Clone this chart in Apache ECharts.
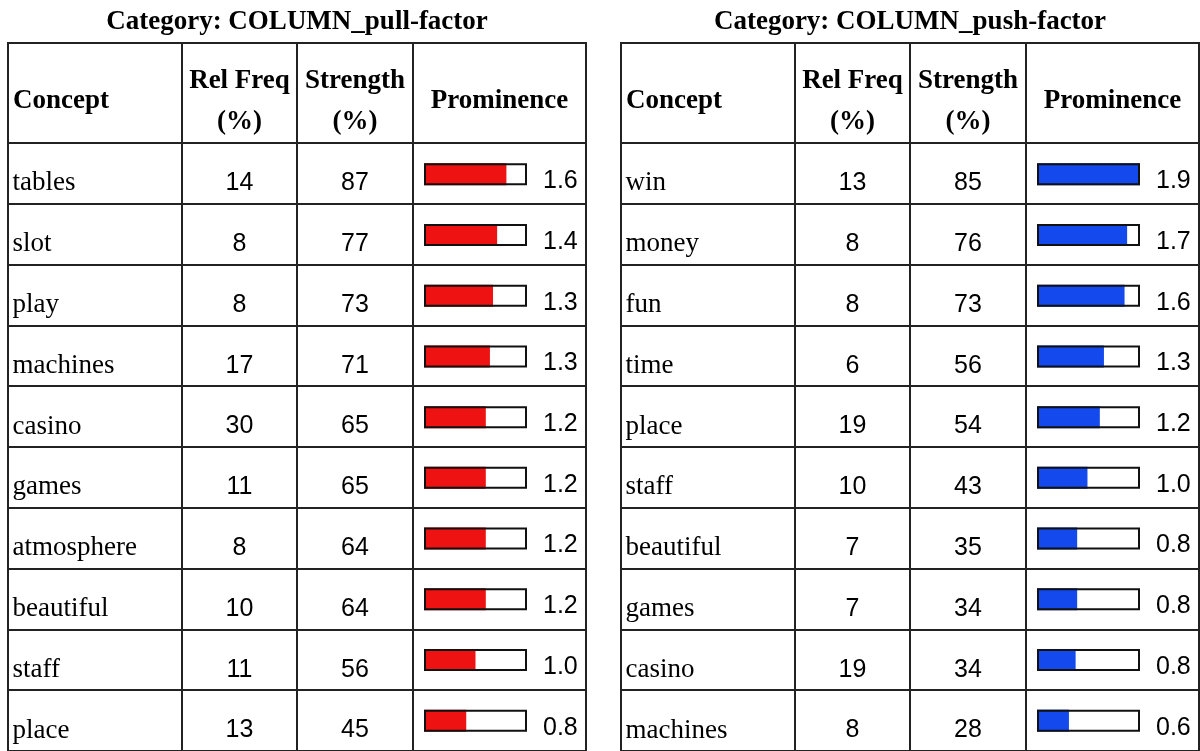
<!DOCTYPE html>
<html>
<head>
<meta charset="utf-8">
<script src="https://cdn.jsdelivr.net/npm/echarts@6/dist/echarts.min.js"></script>
<style>
  html, body { margin: 0; padding: 0; background: #fff; }
  #chart { width: 1200px; height: 751px; }
</style>
</head>
<body>
<div id="chart"></div>
<script>
// COLUMN_pull-factor
var pullConcepts = ['tables', 'slot', 'play', 'machines', 'casino', 'games', 'atmosphere', 'beautiful', 'staff', 'place']
var pullRelFreq = [14, 8, 8, 17, 30, 11, 8, 10, 11, 13]
var pullStrength = [87, 77, 73, 71, 65, 65, 64, 64, 56, 45]
var pullProminence = [1.6, 1.4, 1.3, 1.3, 1.2, 1.2, 1.2, 1.2, 1.0, 0.8]
// bar lengths as drawn (the printed prominence is rounded)
var pullBar = [1.6, 1.42, 1.34, 1.28, 1.2, 1.2, 1.2, 1.2, 1.0, 0.82]

// COLUMN_push-factor
var pushConcepts = ['win', 'money', 'fun', 'time', 'place', 'staff', 'beautiful', 'games', 'casino', 'machines']
var pushRelFreq = [13, 8, 8, 6, 19, 10, 7, 7, 19, 8]
var pushStrength = [85, 76, 73, 56, 54, 43, 35, 34, 34, 28]
var pushProminence = [1.9, 1.7, 1.6, 1.3, 1.2, 1.0, 0.8, 0.8, 0.8, 0.6]
var pushBar = [2.0, 1.75, 1.7, 1.3, 1.22, 0.98, 0.78, 0.78, 0.75, 0.62]

var PROM_MAX = 2

var LINE = '#222'
var TXT = '#000'
var SERIF = '"Liberation Serif", "Times New Roman", serif'
var SANS = '"Liberation Sans", Arial, sans-serif'

var HEAD_TOP = 43
var BODY_TOP = 143
var BODY_H = 613
var COL_W = [174, 115, 116, 173]

var tables = [
  { x: 8, title: 'Category: COLUMN_pull-factor', concepts: pullConcepts, relFreq: pullRelFreq,
    strength: pullStrength, prom: pullProminence, bar: pullBar, color: '#ee1212' },
  { x: 621, title: 'Category: COLUMN_push-factor', concepts: pushConcepts, relFreq: pushRelFreq,
    strength: pushStrength, prom: pushProminence, bar: pushBar, color: '#1449ee' }
]

var grid = []
var xAxis = []
var yAxis = []
var series = []
var graphic = []

function headText(text, x, y, align) {
  return {
    type: 'text', x: x, y: y, silent: true,
    style: {
      text: text, fill: TXT, fontFamily: SERIF, fontSize: 27, fontWeight: 'bold',
      align: align || 'center', verticalAlign: 'middle', lineHeight: 41
    }
  }
}

// text cells: invisible points whose labels carry the values
function textColumn(gi, names, getText, font, labelPos, distance, dy) {
  return {
    type: 'scatter', xAxisIndex: gi, yAxisIndex: gi, silent: true,
    symbolSize: 1, itemStyle: { color: 'rgba(0,0,0,0)' },
    data: names.map(function(name, i) { return [0, i] }),
    label: {
      show: true, position: labelPos, distance: distance, offset: [0, dy],
      color: TXT, fontFamily: font.family, fontSize: font.size,
      textBorderWidth: 0, opacity: 1,
      formatter: function(p) { return getText(p.dataIndex) }
    }
  }
}

tables.forEach(function(t) {
  // column edges
  var edges = [t.x]
  COL_W.forEach(function(w, i) { edges.push(edges[i] + w) })

  // title over the table
  graphic.push({
    type: 'text', x: (edges[0] + edges[4]) / 2, y: 22, silent: true,
    style: { text: t.title, fill: TXT, fontFamily: SERIF, fontSize: 27, fontWeight: 'bold',
      align: 'center', verticalAlign: 'middle' }
  })

  // header cells
  for (var c = 0; c < 4; c++) {
    graphic.push({
      type: 'rect', silent: true,
      shape: { x: edges[c], y: HEAD_TOP, width: COL_W[c], height: BODY_TOP - HEAD_TOP },
      style: { fill: 'none', stroke: LINE, lineWidth: 2 }
    })
  }
  graphic.push(headText('Concept', edges[0] + 5, 101, 'left'))
  graphic.push(headText('Rel Freq\n(%)', (edges[1] + edges[2]) / 2, 102))
  graphic.push(headText('Strength\n(%)', (edges[2] + edges[3]) / 2, 102))
  graphic.push(headText('Prominence', (edges[3] + edges[4]) / 2, 101))

  // body: one grid per column, row lines from the category axis
  var firstGrid = grid.length
  for (var k = 0; k < 4; k++) {
    var gi = grid.length
    grid.push({
      left: edges[k], top: BODY_TOP, width: COL_W[k], height: BODY_H,
      show: true, borderColor: LINE, borderWidth: 2, backgroundColor: 'transparent'
    })
    xAxis.push(k === 0
      ? { gridIndex: gi, type: 'value', min: 0, max: 1, show: false }
      : { gridIndex: gi, type: 'category', data: [''], show: false })
    yAxis.push({
      gridIndex: gi, type: 'category', data: t.concepts, inverse: true,
      axisLine: { show: false }, axisTick: { show: false }, axisLabel: { show: false },
      splitLine: { show: true, interval: 0, lineStyle: { color: LINE, width: 2 } }
    })
  }

  // concept names, left aligned
  series.push(textColumn(firstGrid, t.concepts, function(i) { return t.concepts[i] },
    { family: SERIF, size: 27 }, 'right', 4, 10))
  // numeric columns, centred
  series.push(textColumn(firstGrid + 1, t.concepts, function(i) { return t.relFreq[i] },
    { family: SANS, size: 25 }, 'inside', 0, 10))
  series.push(textColumn(firstGrid + 2, t.concepts, function(i) { return t.strength[i] },
    { family: SANS, size: 25 }, 'inside', 0, 10))

  // prominence bars
  var bi = grid.length
  grid.push({ left: edges[3] + 11, top: BODY_TOP + 1, width: 103, height: BODY_H })
  xAxis.push({ gridIndex: bi, type: 'value', min: 0, max: PROM_MAX, show: false })
  yAxis.push({ gridIndex: bi, type: 'category', data: t.concepts, inverse: true, show: false })
  series.push({
    type: 'bar', xAxisIndex: bi, yAxisIndex: bi, silent: true,
    barWidth: 22, data: t.bar,
    itemStyle: { color: t.color }
  })
  series.push({
    type: 'bar', xAxisIndex: bi, yAxisIndex: bi, silent: true,
    barWidth: 22, barGap: '-100%',
    data: t.concepts.map(function() { return PROM_MAX }),
    itemStyle: { color: 'rgba(0,0,0,0)', borderColor: '#111', borderWidth: 2 },
    label: {
      show: true, position: 'right', distance: 16, offset: [0, 7],
      color: TXT, fontFamily: SANS, fontSize: 25,
      formatter: function(p) { return t.prom[p.dataIndex].toFixed(1) }
    }
  })
})

var chart = echarts.init(document.getElementById('chart'))
chart.setOption({
  animation: false,
  backgroundColor: '#fff',
  grid: grid,
  xAxis: xAxis,
  yAxis: yAxis,
  series: series,
  graphic: graphic
})
</script>
</body>
</html>
